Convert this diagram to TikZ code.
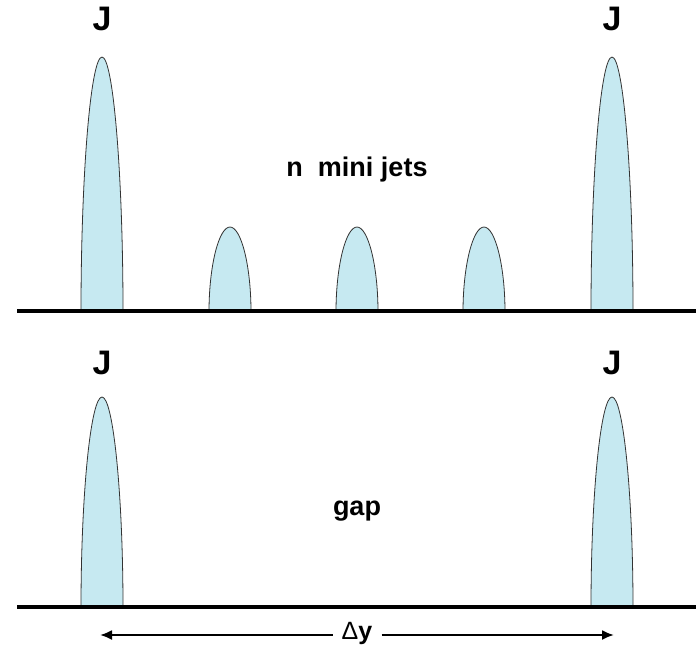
\documentclass[tikz,border=0pt]{standalone}
\usepackage{fontspec}
\setmainfont{Liberation Sans}
\usetikzlibrary{arrows.meta}
\definecolor{jetblue}{HTML}{C6E9F1}

% one jet: centre x, base y, height
\newcommand{\jet}[3]{%
  \draw[jet] (#1-21,#2) .. controls (#1-21,#2-0.55*#3) and (#1-11,#2-#3) .. (#1,#2-#3)
    .. controls (#1+11,#2-#3) and (#1+21,#2-0.55*#3) .. (#1+21,#2);}

\begin{document}
\begin{tikzpicture}[x=1pt, y=-1pt,
  jet/.style={fill=jetblue, draw=black!80, line width=0.8pt},
  axis/.style={line width=3.5pt},
  jlabel/.style={anchor=base, font=\bfseries\fontsize{34}{38}\selectfont},
  txt/.style={anchor=base, font=\bfseries\fontsize{27}{31}\selectfont}]
  \useasboundingbox (0,0) rectangle (696,649);

  % Upper event: two jets and n mini jets
  \jet{102}{312}{255}
  \jet{612}{312}{255}
  \foreach \x in {230,357,484}
    \jet{\x}{312}{85}
  \draw[axis] (17,311) -- (696,311);

  % Lower event: two jets with a gap
  \jet{102}{608}{211}
  \jet{612}{608}{211}
  \draw[axis] (17,607) -- (696,607);

  % Labels
  \node[jlabel] (jUL) at (102,30) {J};
  \node[jlabel] (jUR) at (612,30) {J};
  \node[jlabel] (jLL) at (102,374) {J};
  \node[jlabel] (jLR) at (612,374) {J};
  \node[txt] (mini) at (357,176) {n\ \ mini jets};
  \node[txt] (gap) at (357,515) {gap};

  % Rapidity interval
  \node[anchor=base, inner xsep=9pt, font=\fontsize{25}{28}\selectfont] (dy) at (357,639) {Δ\textbf{y}};
  \coordinate (dyL) at (100,635);
  \coordinate (dyR) at (614,635);
  \draw[-{Latex[length=12pt,width=10pt]}, line width=2pt] (dy.west |- dyL) -- (dyL);
  \draw[-{Latex[length=12pt,width=10pt]}, line width=2pt] (dy.east |- dyR) -- (dyR);
\end{tikzpicture}
\end{document}
